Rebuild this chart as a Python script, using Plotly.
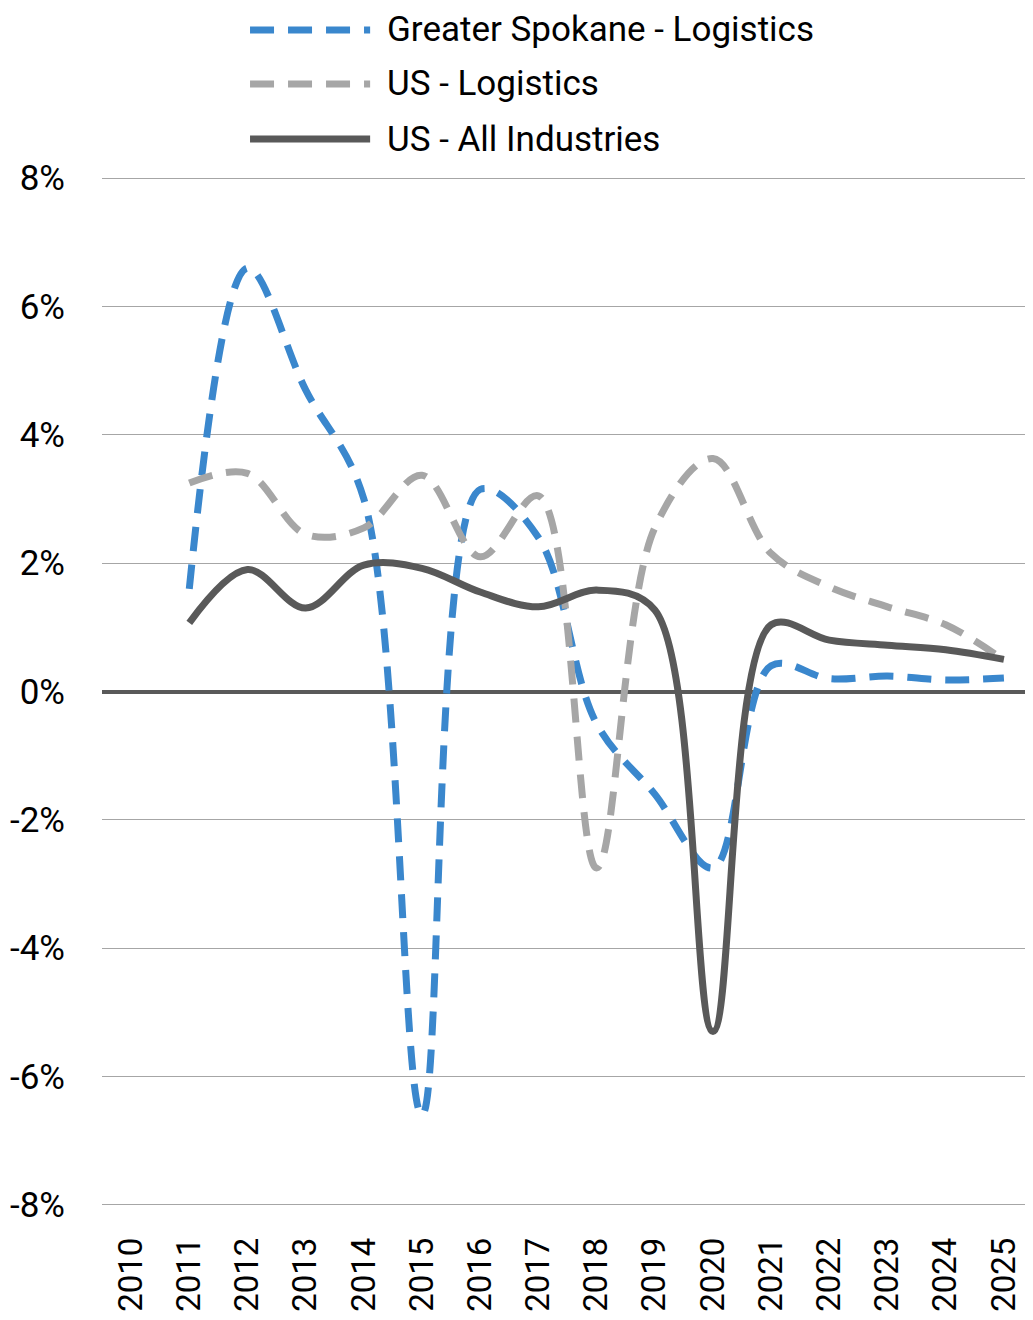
import plotly.graph_objects as go

# ---------------- data ----------------
years = [str(y) for y in range(2010, 2026)]
spokane_logistics = [None, 1.6, 6.6, 4.7, 3.0, -6.6, 3.15, 2.4, -0.5, -1.6, -2.75, 0.4, 0.2, 0.24, 0.18, 0.21]
us_logistics = [None, 3.25, 3.4, 2.45, 2.55, 3.37, 2.1, 3.05, -2.75, 2.55, 3.63, 2.15, 1.63, 1.32, 1.04, 0.49]
us_all_industries = [None, 1.07, 1.9, 1.3, 1.97, 1.92, 1.55, 1.32, 1.58, 1.27, -5.3, 1.04, 0.8, 0.72, 0.65, 0.5]

series_names = ["Greater Spokane - Logistics", "US - Logistics", "US - All Industries"]
y_tick_vals = [-8, -6, -4, -2, 0, 2, 4, 6, 8]
y_tick_text = ["-8%", "-6%", "-4%", "-2%", "0%", "2%", "4%", "6%", "8%"]

# ---------------- style ----------------
FONT = "Roboto, Arial, sans-serif"
colors = ["#3A87CD", "#A6A6A6", "#595959"]
dashes = ["24px,14px", "24px,14px", "solid"]
width = 7

fig = go.Figure()
for name, vals, c, d in zip(series_names, [spokane_logistics, us_logistics, us_all_industries], colors, dashes):
    fig.add_trace(go.Scatter(
        x=years, y=vals, name=name, mode="lines",
        line=dict(color=c, width=width, dash=d, shape="spline", smoothing=1.0),
        connectgaps=False, showlegend=False,
    ))

# custom legend (long line samples as in the reference)
leg_y = [1.1404, 1.0881, 1.0348]
for name, c, d, yy in zip(series_names, colors, dashes, leg_y):
    fig.add_shape(type="line", xref="paper", yref="paper",
                  x0=0.159, x1=0.288, y0=yy, y1=yy,
                  line=dict(color=c, width=width, dash=d))
    fig.add_annotation(xref="paper", yref="paper", x=0.304, y=yy,
                       xanchor="left", yanchor="middle", showarrow=False,
                       text=name, font=dict(family=FONT, size=35, color="#000000"))

# the page body has an 8px margin: figure is sized to fill the remaining window
fig.update_layout(
    width=1025, height=1312, autosize=False,
    margin=dict(l=94, r=0, t=167, b=112),
    paper_bgcolor="white", plot_bgcolor="white",
    font=dict(family=FONT, size=35, color="#000000"),
)
fig.update_xaxes(
    type="category", categoryorder="array", categoryarray=years,
    range=[-0.5, 15.5], tickangle=-90, showgrid=False, zeroline=False,
    showline=False, ticks="", ticklabelstandoff=22,
    tickfont=dict(family=FONT, size=33, color="#000000"),
)
fig.update_yaxes(
    range=[-8.05, 8.05], tickvals=y_tick_vals, ticktext=y_tick_text,
    showgrid=True, gridcolor="#A6A6A6", gridwidth=1.3,
    zeroline=True, zerolinecolor="#595959", zerolinewidth=4,
    showline=False, ticks="", ticklabelstandoff=36,
    tickfont=dict(family=FONT, size=35, color="#000000"),
)

fig.write_html("out.html")
